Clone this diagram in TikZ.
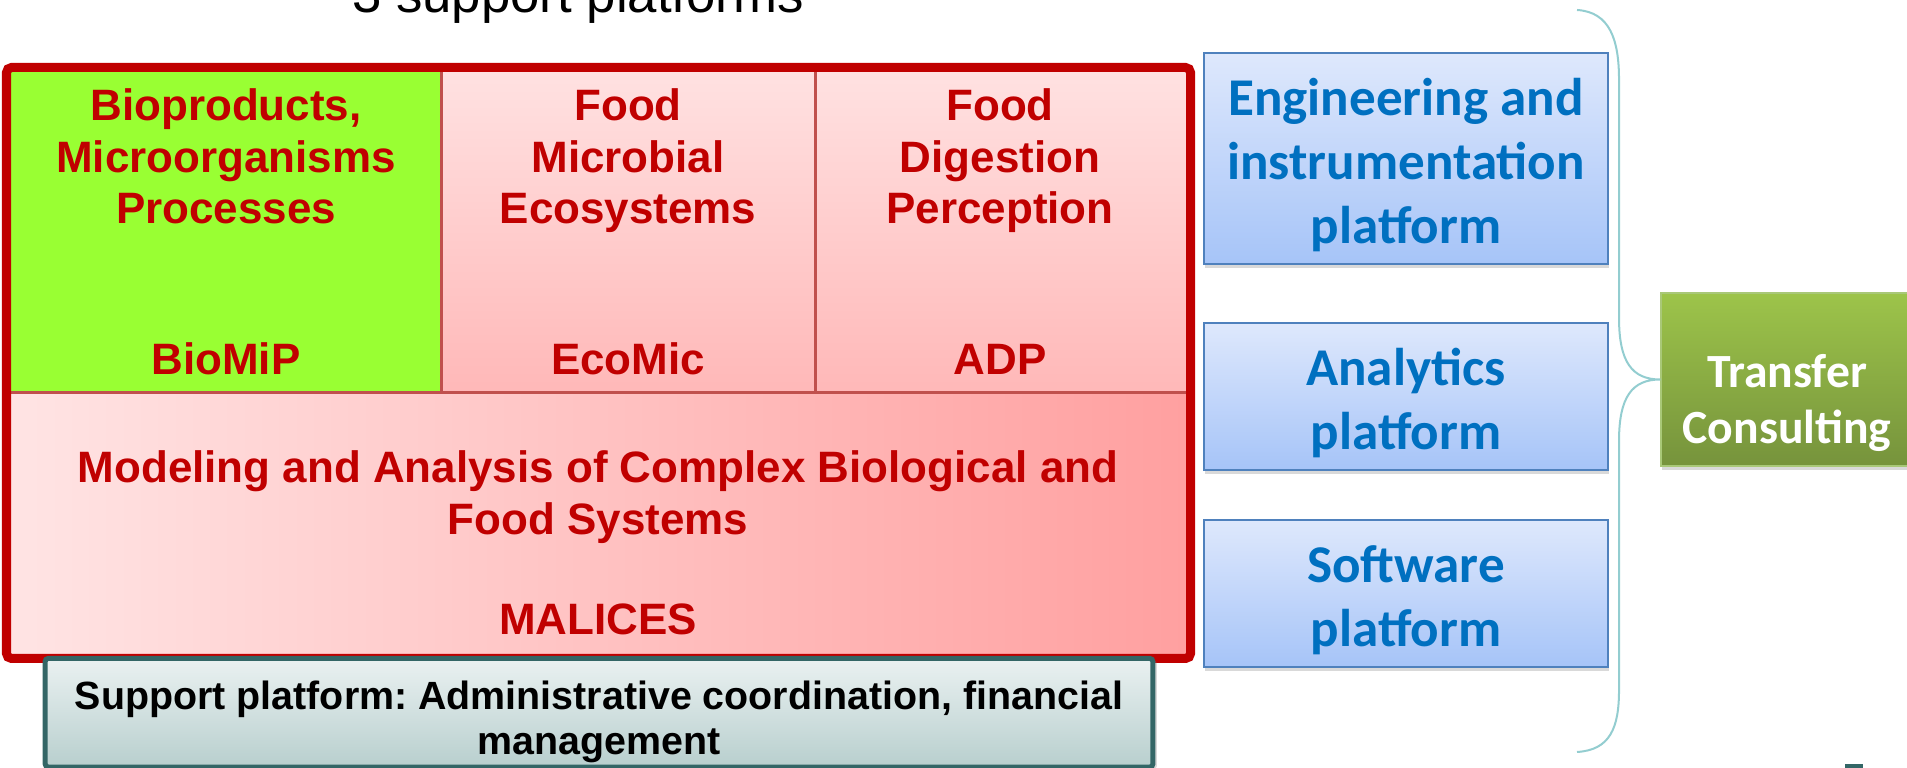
\documentclass[tikz,border=0pt]{standalone}
\usepackage{fontspec}
\usepackage{tikz}
\usetikzlibrary{shadows}
\setmainfont{Liberation Sans}
\newfontfamily\calibrifont{Carlito}
\frenchspacing

\definecolor{framered}{RGB}{192,0,0}
\definecolor{seamred}{RGB}{192,80,77}
\definecolor{biogreen}{RGB}{153,255,51}
\definecolor{pinktop}{RGB}{255,225,225}
\definecolor{pinkbottom}{RGB}{255,184,184}
\definecolor{pinkleft}{RGB}{255,228,228}
\definecolor{pinkright}{RGB}{255,160,160}
\definecolor{platblue}{RGB}{0,112,192}
\definecolor{platedge}{RGB}{79,129,189}
\definecolor{plattop}{RGB}{222,232,252}
\definecolor{platbottom}{RGB}{166,196,248}
\definecolor{transtop}{RGB}{157,196,74}
\definecolor{transbottom}{RGB}{118,147,60}
\definecolor{transedge}{RGB}{169,200,120}
\definecolor{supptop}{RGB}{234,241,241}
\definecolor{suppbottom}{RGB}{184,207,206}
\definecolor{suppedge}{RGB}{51,102,102}
\definecolor{bracecol}{RGB}{147,205,208}

\newcommand{\platstrut}{\rule{0pt}{0.5cm}}
\newcommand{\suppstrut}{\rule{0pt}{0.46cm}}

\tikzset{frame/.style = {draw = framered, line width = 0.09cm, rounded corners = 0.05cm}}
\tikzset{seam/.style = {draw = seamred, line width = 0.03cm}}
\tikzset{celltext/.style = {text = framered, align = center, inner sep = 0,
                            font = \bfseries\fontsize{12.5}{14.65}\selectfont}}
\tikzset{platform/.style = {draw = platedge, line width = 0.02cm, top color = plattop,
                            bottom color = platbottom, minimum width = 4.04cm, inner sep = 0,
                            align = center, text = platblue,
                            font = \calibrifont\bfseries\fontsize{15.1}{18.2}\selectfont,
                            drop shadow = {shadow xshift = 0.01cm, shadow yshift = -0.04cm, opacity = 0.3}}}
\tikzset{suppbox/.style = {draw = suppedge, line width = 0.05cm, rounded corners = 0.03cm,
                           top color = supptop, bottom color = suppbottom, inner sep = 0,
                           minimum width = 11.07cm, minimum height = 1.085cm, align = center,
                           font = \bfseries\fontsize{11.2}{12.8}\selectfont,
                           drop shadow = {shadow xshift = 0.04cm, shadow yshift = -0.02cm, opacity = 0.3}}}
\tikzset{brace/.style = {draw = bracecol, line width = 0.02cm}}

\begin{document}
\begin{tikzpicture}[x = 0.01cm, y = -0.01cm]
    \useasboundingbox (0, 0) rectangle (1907, 768);

    \node [anchor = base, inner sep = 0, font = \fontsize{15}{18}\selectfont] (title) at (578, 13) {3 support platforms};

    % research units
    \fill [biogreen] (11, 72) rectangle (441, 393);
    \shade [top color = pinktop, bottom color = pinkbottom] (441, 72) rectangle (1186, 393);
    \shade [left color = pinkleft, right color = pinkright] (11, 393) rectangle (1186, 654);
    \draw [seam] (441, 72) -- (441, 393);
    \draw [seam] (815, 72) -- (815, 393);
    \draw [seam] (11, 393) -- (1186, 393);
    \draw [frame] (6.5, 67.5) rectangle (1190.5, 658.5);

    \node [celltext, anchor = north] (bmp-name) at (226, 88) {Bioproducts,\\Microorganisms\\Processes};
    \node [celltext, anchor = base] (bmp) at (226, 375) {BioMiP};
    \node [celltext, anchor = north] (eco-name) at (628, 88) {Food\\Microbial\\Ecosystems};
    \node [celltext, anchor = base] (eco) at (628, 375) {EcoMic};
    \node [celltext, anchor = north] (adp-name) at (1000, 88) {Food\\Digestion\\Perception};
    \node [celltext, anchor = base] (adp) at (1000, 375) {ADP};
    \node [celltext, anchor = north] (mal-name) at (598, 450) {Modeling and Analysis of Complex Biological and\\Food Systems};
    \node [celltext, anchor = base] (mal) at (598, 635) {MALICES};

    \node [suppbox] (support) at (599, 712.75) {\suppstrut Support platform: Administrative coordination, financial\\management};

    % platforms
    \node [platform, minimum height = 2.11cm] (eng) at (1406, 158.5) {\platstrut Engineering and\\instrumentation\\platform};
    \node [platform, minimum height = 1.47cm] (ana) at (1406, 396.5) {\platstrut Analytics\\platform};
    \node [platform, minimum height = 1.47cm] (soft) at (1406, 593.5) {\platstrut Software\\platform};

    \node [draw = transedge, line width = 0.015cm, top color = transtop, bottom color = transbottom,
           minimum width = 2.52cm, minimum height = 1.73cm, inner sep = 0,
           drop shadow = {shadow xshift = 0.01cm, shadow yshift = -0.04cm, opacity = 0.3}] (transfer) at (1787, 379.5) {};
    \node [align = center, inner sep = 0, text = white,
           font = \calibrifont\bfseries\fontsize{13.55}{15.9}\selectfont] (transfer-text) at (1787, 403) {Transfer\\Consulting};

    \coordinate (brace-top) at (1577, 10);
    \coordinate (brace-bottom) at (1577, 752);
    \draw [brace] (brace-top) .. controls (1610, 12) and (1619, 40) .. (1619, 80) -- (1619, 318)
        .. controls (1619, 362) and (1632, 379.5) .. (transfer.west)
        .. controls (1632, 379.5) and (1619, 397) .. (1619, 441) -- (1619, 690)
        .. controls (1619, 728) and (1610, 750) .. (brace-bottom);

    \fill [suppedge] (1845, 764) rectangle (1863, 768);
\end{tikzpicture}
\end{document}
